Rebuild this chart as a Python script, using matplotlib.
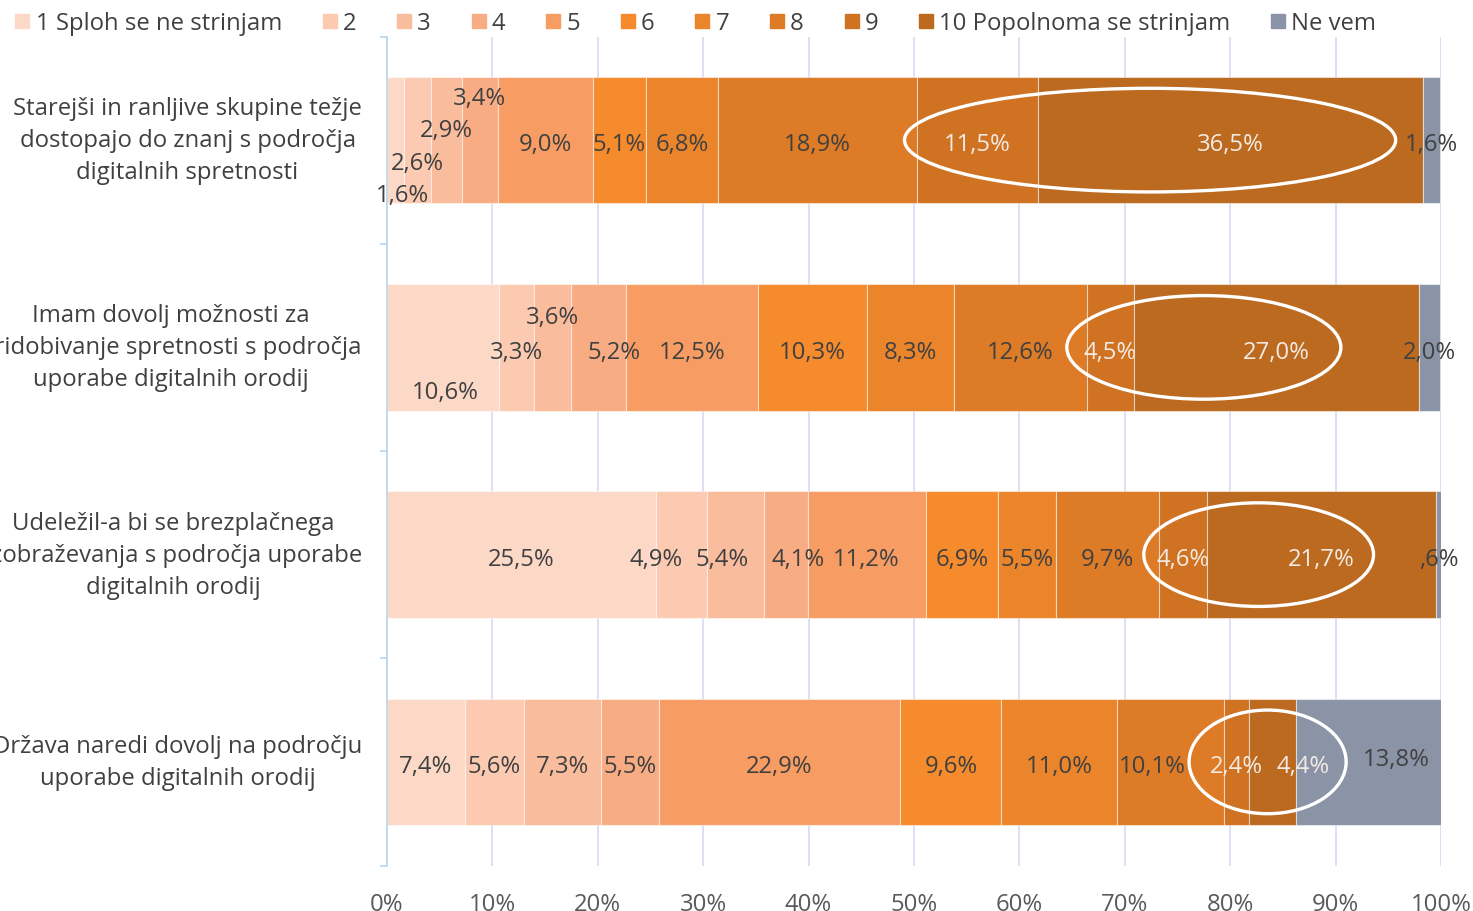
import numpy as np
import matplotlib.pyplot as plt
from matplotlib.patches import Ellipse
from matplotlib.lines import Line2D

plt.rcParams['font.family'] = ['Open Sans', 'DejaVu Sans']

categories = [
    "Starejši in ranljive skupine težje\ndostopajo do znanj s področja\ndigitalnih spretnosti",
    "Imam dovolj možnosti za\npridobivanje spretnosti s področja\nuporabe digitalnih orodij",
    "Udeležil-a bi se brezplačnega\nizobraževanja s področja uporabe\ndigitalnih orodij",
    "Država naredi dovolj na področju\nuporabe digitalnih orodij",
]
series = ["1 Sploh se ne strinjam", "2", "3", "4", "5", "6", "7", "8", "9",
          "10 Popolnoma se strinjam", "Ne vem"]
values = np.array([
    [1.6, 2.6, 2.9, 3.4, 9.0, 5.1, 6.8, 18.9, 11.5, 36.5, 1.6],
    [10.6, 3.3, 3.6, 5.2, 12.5, 10.3, 8.3, 12.6, 4.5, 27.0, 2.0],
    [25.5, 4.9, 5.4, 4.1, 11.2, 6.9, 5.5, 9.7, 4.6, 21.7, 0.6],
    [7.4, 5.6, 7.3, 5.5, 22.9, 9.6, 11.0, 10.1, 2.4, 4.4, 13.8],
])
# highlighted range (in %) per row, hand drawn ellipses
ellipse_left = [49.1, 64.5, 71.8, 76.1]
ellipse_right = [95.7, 90.5, 93.6, 91.0]

colors = ["#fcd8c7", "#fbcab0", "#f9bc9c", "#f8ac84", "#f79d64", "#f58b2c",
          "#ea852b", "#dd7b27", "#cf7323", "#bc6a20", "#8a94a6"]

# label nudges in pixels (dx, dy; dy down) for the crowded segments
nudge = {(0, 0): (7, 51), (0, 1): (0, 19), (0, 2): (0, -14), (0, 3): (0, -46),
         (1, 0): (2, 40), (1, 2): (0, -35), (1, 3): (15, 0),
         (2, 1): (-25, 0), (2, 2): (-14, 0), (2, 3): (12, 0),
         (3, 7): (-18, 0), (3, 9): (31, 0), (3, 10): (28, -7)}

fig = plt.figure(figsize=(14.73, 9.12), dpi=100)
ax = fig.add_axes([387 / 1473, 1 - 866.5 / 912, 1054 / 1473, 829 / 912])

fs = 17.2
y = np.arange(len(categories))
left = np.zeros(len(categories))
for j, name in enumerate(series):
    ax.barh(y, values[:, j], left=left, height=0.61, color=colors[j],
            edgecolor=(1, 1, 1, 0.5), linewidth=0.8, zorder=2)
    for i in range(len(categories)):
        v = values[i, j]
        txt = ("%.1f%%" % v).replace(".", ",")
        if txt.startswith("0,"):
            txt = txt[1:]
        inside = (j in (8, 9))
        dx, dy = nudge.get((i, j), (0, 0))
        ax.annotate(txt, (left[i] + v / 2, y[i]), xytext=(dx * 0.72, -dy * 0.72 - 3),
                    textcoords="offset points", ha="center", va="center",
                    fontsize=fs, color="#f3ebe4" if inside else "#404040", zorder=4)
    left += values[:, j]

for i in range(len(categories)):
    w = ellipse_right[i] - ellipse_left[i]
    ax.add_patch(Ellipse(((ellipse_left[i] + ellipse_right[i]) / 2, y[i]), w, 0.5,
                         fill=False, edgecolor="white", linewidth=2.4, zorder=5))

ax.set_xlim(0, 100)
ax.set_ylim(3.5, -0.5)
ax.set_xticks(np.arange(0, 101, 10))
ax.set_xticklabels(["%d%%" % t for t in range(0, 101, 10)], fontsize=fs, color="#595959")
ax.tick_params(axis="x", length=0, pad=19)
ax.grid(axis="x", color="#d9dcf5", linewidth=1.3, zorder=0)
ax.set_yticks(np.arange(-0.5, 4, 1))
ax.set_yticklabels([])
ax.set_yticks(y, minor=True)
ax.set_yticklabels(categories, minor=True, fontsize=fs, color="#404040")
for lab in ax.get_yticklabels(minor=True):
    lab.set_multialignment("center")
    lab.set_linespacing(1.45)
    lab.set_verticalalignment("center")
ax.tick_params(axis="y", which="major", length=5, color="#bdd7ee", width=1.3)
ax.tick_params(axis="y", which="minor", length=0, pad=18)
for s in ["top", "right", "bottom"]:
    ax.spines[s].set_visible(False)
ax.spines["left"].set_color("#bdd7ee")
ax.spines["left"].set_linewidth(1.3)

handles = [Line2D([], [], marker="s", linestyle="none", markersize=10,
                  markerfacecolor=c, markeredgecolor=c) for c in colors]
fig.legend(handles, series, loc="upper left", bbox_to_anchor=(-0.005, 1.010), ncol=11,
           frameon=False, fontsize=fs, handlelength=0.7, handletextpad=0.2,
           columnspacing=1.65, labelcolor="#404040")

fig.savefig("out.png")
